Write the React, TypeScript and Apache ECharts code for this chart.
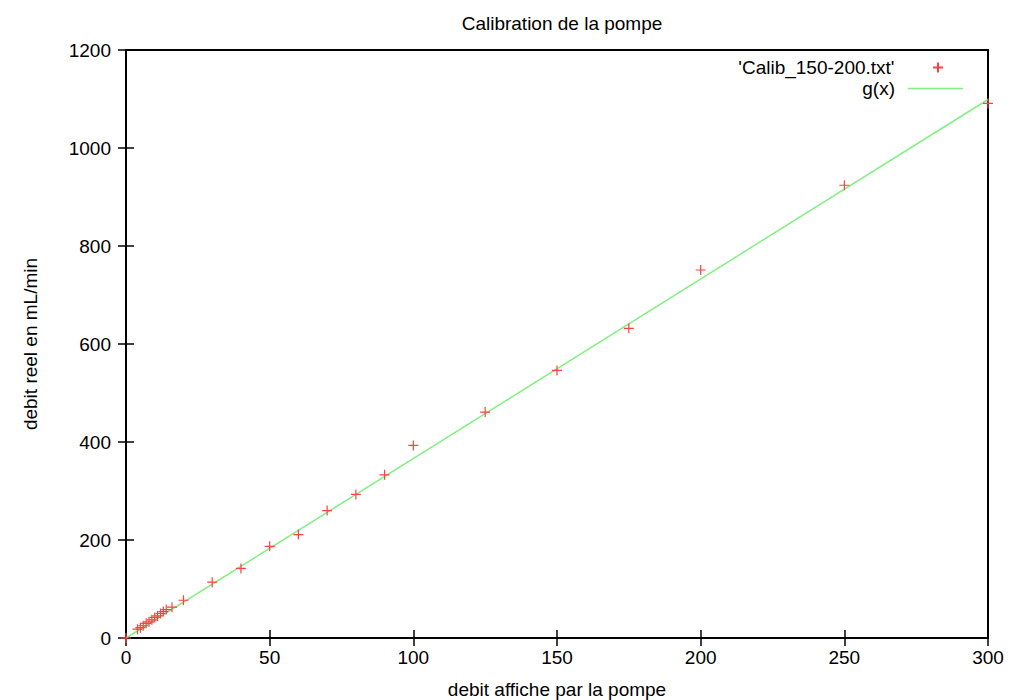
import React, { useEffect, useRef } from "react";
import * as echarts from "echarts";

const title = "Calibration de la pompe";
const xName = "debit affiche par la pompe";
const yName = "debit reel en mL/min";
const dataName = "'Calib_150-200.txt'";
const fitName = "g(x)";

const pumpX = [0, 4, 5, 6, 7, 8, 9, 10, 11, 12, 13, 14, 16, 20, 30, 40, 50, 60, 70, 80, 90, 100, 125, 150, 175, 200, 250, 300];
const realY = [0, 18, 21, 25, 30, 33, 37, 42, 45, 50, 54, 58, 63, 77, 114, 142, 187, 211, 260, 293, 333, 393, 461, 546, 632, 751, 924, 1091];

const fitX = [0, 300];
const fitY = [0, 1099];

const xTicks = { min: 0, max: 300, interval: 50 };
const yTicks = { min: 0, max: 1200, interval: 200 };

const FONT = "Liberation Sans";
const FS = 19;

export default function App() {
  const ref = useRef<HTMLDivElement>(null);
  useEffect(() => {
    document.body.style.margin = "0";
    const chart = echarts.init(ref.current!, null, { renderer: "svg" });
    const tickStyle = { show: true, inside: true, length: 8, lineStyle: { color: "#000", width: 1.5 } };
    const plain = (v: number) => String(v);
    chart.setOption({
      animation: false,
      backgroundColor: "#fff",
      title: {
        text: title,
        left: 557,
        textAlign: "center",
        top: 9,
        textStyle: { fontFamily: FONT, fontSize: FS, fontWeight: "normal", color: "#000" },
      },
      legend: [
        {
          orient: "vertical",
          right: 74,
          top: 58,
          align: "right",
          itemWidth: 55,
          itemHeight: 10,
          padding: 0,
          textStyle: { fontFamily: FONT, fontSize: FS, color: "#000", padding: [0, 11, 0, 0] },
          data: [dataName],
        },
        {
          orient: "vertical",
          right: 55,
          top: 79,
          align: "right",
          itemWidth: 55,
          itemHeight: 1.5,
          padding: 0,
          icon: "rect",
          textStyle: { fontFamily: FONT, fontSize: FS, color: "#000", padding: [0, 8, 0, 0] },
          data: [fitName],
        },
      ],
      grid: {
        left: 126,
        right: 30,
        top: 50,
        bottom: 62,
        outerBoundsMode: "none",
        containLabel: false,
        show: true,
        borderColor: "#000",
        borderWidth: 2,
      },
      xAxis: [
        {
          type: "value",
          ...xTicks,
          name: xName,
          nameLocation: "middle",
          nameGap: 42,
          nameTextStyle: { fontFamily: FONT, fontSize: FS, color: "#000" },
          axisLine: { show: false },
          axisTick: tickStyle,
          splitLine: { show: false },
          axisLabel: { fontFamily: FONT, fontSize: FS, color: "#000", margin: 10, formatter: plain },
        },
        {
          type: "value",
          position: "top",
          ...xTicks,
          axisLine: { show: false },
          axisTick: tickStyle,
          splitLine: { show: false },
          axisLabel: { show: false },
        },
      ],
      yAxis: [
        {
          type: "value",
          ...yTicks,
          name: yName,
          nameLocation: "middle",
          nameGap: 86,
          nameRotate: 90,
          nameTextStyle: { fontFamily: FONT, fontSize: FS, color: "#000" },
          axisLine: { show: false },
          axisTick: tickStyle,
          splitLine: { show: false },
          axisLabel: { fontFamily: FONT, fontSize: FS, color: "#000", margin: 15, formatter: plain },
        },
        {
          type: "value",
          position: "right",
          ...yTicks,
          axisLine: { show: false },
          axisTick: tickStyle,
          splitLine: { show: false },
          axisLabel: { show: false },
        },
      ],
      series: [
        {
          name: dataName,
          type: "scatter",
          clip: false,
          symbol: "path://M0,5L10,5M5,0L5,10",
          symbolSize: 10,
          itemStyle: { color: "transparent", borderColor: "#ff4040", borderWidth: 1.2, opacity: 1 },
          data: pumpX.map((x, i) => [x, realY[i]]),
          z: 5,
        },
        {
          name: fitName,
          type: "line",
          symbol: "none",
          lineStyle: { color: "#80f080", width: 1.5 },
          itemStyle: { color: "#80f080" },
          data: fitX.map((x, i) => [x, fitY[i]]),
          z: 2,
        },
      ],
    });
    return () => chart.dispose();
  }, []);
  return <div ref={ref} style={{ width: 1018, height: 700 }} />;
}
